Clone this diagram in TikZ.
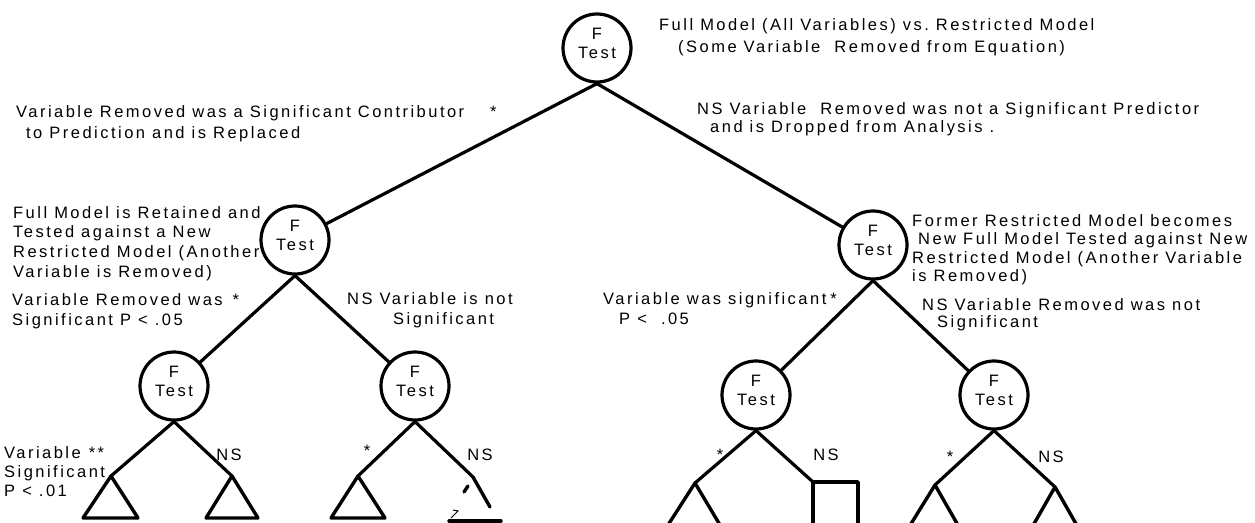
\documentclass[tikz,border=0pt]{standalone}
\usepackage{fontspec}
\newfontfamily\labfont[LetterSpace=15]{Liberation Sans}
\newcommand\lsz[1]{\labfont\fontsize{16.5}{#1}\selectfont}
\begin{document}
\begin{tikzpicture}[x=1pt,y=-1pt,
  ftest/.style={circle, draw, line width=3.2pt, minimum size=68pt, inner sep=0pt,
                label={[align=center, font=\lsz{19}, inner sep=0pt, yshift=5pt]center:F\\Test}},
  conn/.style={line width=3.2pt, line cap=round},
  tri/.style={line width=3.4pt, line join=round, line cap=round},
  txt/.style={anchor=north west, align=left, inner sep=0pt},
  brmark/.style={inner sep=0pt, font=\lsz{18}}]
\useasboundingbox (0,0) rectangle (1255,522);
\clip (0,0) rectangle (1255,522);

% test nodes
\node[ftest] (T)  at (597,48)  {};
\node[ftest] (L)  at (295,240) {};
\node[ftest] (R)  at (873,245) {};
\node[ftest] (LL) at (174,386) {};
\node[ftest] (LR) at (415,386) {};
\node[ftest] (RL) at (756,395) {};
\node[ftest] (RR) at (994,395) {};

% apexes of the outcome triangles and the corner of the box
\coordinate (a1) at (111,476);
\coordinate (a2) at (232,476);
\coordinate (a3) at (358,476);
\coordinate (a4) at (473,477);
\coordinate (a5) at (695,483);
\coordinate (bx) at (813,482);
\coordinate (a6) at (935,485);
\coordinate (a7) at (1055,487);

% branches
\draw[conn] (T.south) -- (L);
\draw[conn] (T.south) -- (R);
\draw[conn] (L.south) -- (LL);
\draw[conn] (L.south) -- (LR);
\draw[conn] (R.south) -- (RL);
\draw[conn] (R.south) -- (RR);
\draw[conn] (LL.south) -- (a1);
\draw[conn] (LL.south) -- (a2);
\draw[conn] (LR.south) -- (a3);
\draw[conn] (LR.south) -- (a4);
\draw[conn] (RL.south) -- (a5);
\draw[conn] (RL.south) -- (bx);
\draw[conn] (RR.south) -- (a6);
\draw[conn] (RR.south) -- (a7);

% outcome triangles
\draw[tri] (a1) -- ++(-28,42) -- ++(55,0) -- cycle;
\draw[tri] (a2) -- ++(-26,42) -- ++(52,0) -- cycle;
\draw[tri] (a3) -- ++(-27,42) -- ++(54,0) -- cycle;
\draw[tri] (a5) -- ++(-27,42) -- ++(52,0) -- cycle;
\draw[tri] (a6) -- ++(-26,42) -- ++(50,0) -- cycle;
\draw[tri] (a7) -- ++(-24,42) -- ++(48,0) -- cycle;
% broken triangle
\draw[tri] (a4) -- ++(17,30);
\draw[tri] (a4) ++(-5,9) -- ++(-4,6);
\draw[tri] (a4) ++(-24,44) -- ++(52,0);
\draw[line width=1pt] (a4) ++(-20,33) -- ++(5,1) -- ++(-7,7);
% box
\draw[tri] (bx) ++(0,50) -- (bx) -- ++(45,0) -- ++(0,50);

% texts
\node[txt, font=\lsz{22}] (tA) at (659,18)
  {Full Model (All Variables) vs.\ Restricted Model\\
   \hspace*{19pt}(Some Variable\ \ Removed from Equation)};
\node[txt, font=\lsz{21}] (tB) at (16,105)
  {Variable Removed was a Significant Contributor\hspace{26pt}*\\
   \hspace*{10pt}to Prediction and is Replaced};
\node[txt, font=\lsz{18}] (tC) at (697,102)
  {NS Variable\ \ Removed was not a Significant Predictor\\
   \hspace*{13pt}and is Dropped from Analysis\ .};
\node[txt, font=\lsz{19.8}] (tD) at (13,206)
  {Full Model is Retained and\\Tested against a New\\
   Restricted Model (Another\\Variable is Removed)};
\node[txt, font=\lsz{20}] (tE) at (12,293)
  {Variable Removed was\hspace{10pt}*\\Significant P < .05};
\node[txt, font=\lsz{20}] (tF) at (347,292)
  {NS Variable is not\\\hspace*{46pt}Significant};
\node[txt, font=\lsz{20}] (tG) at (603,292)
  {Variable was significant\hspace{4pt}*\\\hspace*{16pt}P <\ \ .05};
\node[txt, font=\lsz{18.5}] (tH) at (912,214)
  {Former Restricted Model becomes\\
   \hspace*{6pt}New Full Model Tested against New\\
   Restricted Model (Another Variable\\is Removed)};
\node[txt, font=\lsz{17}] (tI) at (922,298)
  {NS Variable Removed was not\\\hspace*{15pt}Significant};
\node[txt, font=\lsz{19}] (tJ) at (4,446)
  {Variable\hspace{8pt}**\\Significant\\P < .01};

% branch marks
\node[brmark] (n1) at (229,455) {NS};
\node[brmark] (n2) at (480,455) {NS};
\node[brmark] (n3) at (826,455) {NS};
\node[brmark] (n4) at (1051,457) {NS};
\node[brmark] (s1) at (367,451) {*};
\node[brmark] (s2) at (720,455) {*};
\node[brmark] (s3) at (950,457) {*};
\end{tikzpicture}
\end{document}
